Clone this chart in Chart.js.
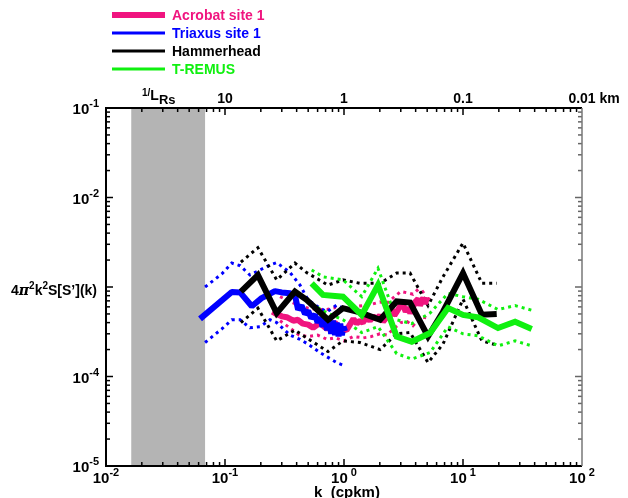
<!DOCTYPE html>
<html>
<head>
<meta charset="utf-8">
<script src="https://cdn.jsdelivr.net/npm/chart.js@4.4.1/dist/chart.umd.min.js"></script>
<style>
html,body{margin:0;padding:0;background:#fff;}
#wrap{width:628px;height:498px;position:relative;}
</style>
</head>
<body>
<div id="wrap"><canvas id="spec"></canvas></div>
<script>
// axis ranges and tick labels
const kRange = [0.01, 100];
const sRange = [1e-5, 1e-1];
const xTicks = [0.01, 0.1, 1, 10, 100];
const xTickExp = ["-2", "-1", " 0", " 1", " 2"];
const yTicks = [1e-1, 1e-2, 1e-4, 1e-5];
const yTickExp = ["-1", "-2", "-4", "-5"];
const topTicks = [0.1, 1, 10, 100];
const topTickLabels = ["10", "1", "0.1", "0.01"];
const rsBand = [0.0163, 0.068];   // 1/L_Rs shaded k range

// Acrobat site 1
const acrobatK = [0.25,0.27,0.30,0.33,0.375,0.41,0.45,0.50,0.55,0.60,0.63,0.68,0.72,0.78,0.84,0.90,0.97,1.05,1.12,1.20,1.28,1.36,1.44,1.55,1.65,1.76,1.88,2.0,2.13,2.25,2.40,2.52,2.65,2.80,2.96,3.13,3.30,3.45,3.60,3.80,4.0,4.2,4.35,4.49,4.65,4.8,4.95,5.1];
const acrobatS = [5.3e-4,5.0e-4,4.7e-4,4.6e-4,4.2e-4,4.3e-4,3.9e-4,3.8e-4,3.5e-4,3.8e-4,4.0e-4,3.6e-4,3.4e-4,3.7e-4,4.0e-4,3.6e-4,3.4e-4,3.3e-4,3.8e-4,4.4e-4,3.9e-4,4.2e-4,4.0e-4,4.6e-4,4.2e-4,4.7e-4,4.4e-4,4.8e-4,4.1e-4,4.5e-4,5.2e-4,5.6e-4,4.8e-4,5.4e-4,6.1e-4,6.4e-4,5.3e-4,5.9e-4,5.1e-4,6.0e-4,6.9e-4,7.4e-4,6.2e-4,6.8e-4,7.6e-4,6.5e-4,7.4e-4,7.0e-4];
const acrobatBK = [0.29,0.35,0.42,0.5,0.6,0.72,0.85,1.0,1.2,1.45,1.7,2.0,2.3,2.6,3.0,3.4,3.8,4.2,4.6,5.0];
const acrobatHi = [7.8e-4,6.9e-4,6.2e-4,5.8e-4,5.6e-4,5.6e-4,5.9e-4,5.3e-4,6.0e-4,6.2e-4,6.4e-4,6.8e-4,6.6e-4,7.6e-4,8.9e-4,8.6e-4,8.3e-4,9.4e-4,8.8e-4,9.6e-4];
const acrobatLo = [4.2e-4,3.5e-4,2.9e-4,2.8e-4,2.9e-4,2.6e-4,2.7e-4,2.5e-4,2.8e-4,2.7e-4,2.8e-4,3.0e-4,2.9e-4,3.4e-4,4.0e-4,4.1e-4,3.7e-4,4.3e-4,4.6e-4,4.5e-4];

// Triaxus site 1
const triaxusK = [0.0617,0.114,0.134,0.168,0.203,0.263,0.30,0.352,0.387,0.411,0.44,0.47,0.50,0.53,0.57,0.60,0.63,0.66,0.69,0.72,0.75,0.78,0.81,0.84,0.87,0.90,0.93,0.96,0.99,1.02];
const triaxusS = [4.4e-4,8.8e-4,8.7e-4,6.1e-4,7.5e-4,9.0e-4,8.7e-4,8.5e-4,8.1e-4,5.6e-4,6.2e-4,5.0e-4,5.4e-4,4.5e-4,4.9e-4,4.0e-4,4.6e-4,3.6e-4,4.4e-4,3.3e-4,4.5e-4,3.0e-4,4.2e-4,2.9e-4,4.0e-4,2.8e-4,3.9e-4,2.9e-4,3.6e-4,3.2e-4];
const triaxusBK = [0.068,0.094,0.114,0.134,0.162,0.197,0.239,0.272,0.352,0.427,0.498,0.628,0.72,0.87,0.98];
const triaxusHi = [1.0e-3,1.4e-3,1.85e-3,1.73e-3,1.36e-3,1.55e-3,1.76e-3,1.87e-3,1.45e-3,1.05e-3,7.2e-4,5.8e-4,5.3e-4,6.3e-4,5.8e-4];
const triaxusLo = [2.4e-4,3.4e-4,4.3e-4,4.3e-4,3.5e-4,3.6e-4,4.3e-4,4.0e-4,2.9e-4,2.6e-4,2.3e-4,1.85e-4,1.66e-4,1.43e-4,1.34e-4];

// Hammerhead
const hammerK = [0.136,0.189,0.272,0.387,0.485,0.734,0.98,1.36,2.01,2.77,3.59,5.08,6.79,10,14.4,19.2];
const hammerS = [8.9e-4,1.36e-3,5.1e-4,8.9e-4,7.2e-4,4.3e-4,5.8e-4,5.2e-4,4.3e-4,6.9e-4,6.7e-4,2.8e-4,5.3e-4,1.43e-3,4.9e-4,5.0e-4];
const hammerHi = [1.9e-3,2.75e-3,1.2e-3,1.85e-3,1.45e-3,1.05e-3,1.2e-3,1.1e-3,1.1e-3,1.43e-3,1.43e-3,6.2e-4,1.3e-3,3.1e-3,1.1e-3,1.1e-3];
const hammerLo = [4.0e-4,5.8e-4,2.5e-4,3.3e-4,2.7e-4,1.9e-4,2.5e-4,2.4e-4,2.0e-4,3.0e-4,3.1e-4,1.43e-4,2.3e-4,7.3e-4,2.5e-4,2.25e-4];

// T-REMUS
const remusK = [0.535,0.666,0.98,1.41,1.93,2.77,3.71,5.28,7.48,10,13.4,19.7,27.4,37.8];
const remusS = [1.1e-3,8.15e-4,7.8e-4,4.87e-4,1.05e-3,2.79e-4,2.45e-4,3.06e-4,5.82e-4,4.87e-4,4.58e-4,3.48e-4,4.09e-4,3.40e-4];
const remusHi = [1.55e-3,1.3e-3,1.2e-3,7.8e-4,1.62e-3,4.3e-4,3.9e-4,5.1e-4,8.5e-4,7.8e-4,7.3e-4,5.6e-4,6.2e-4,5.5e-4];
const remusLo = [6.5e-4,5.4e-4,4.3e-4,3.1e-4,3.6e-4,1.8e-4,1.57e-4,1.85e-4,3.6e-4,3.0e-4,2.85e-4,2.2e-4,2.5e-4,2.2e-4];

const PINK = "#f0147f", BLUE = "#0000ff", BLACK = "#000000", GREEN = "#10f010";
const FONT = '"Liberation Sans", Arial, sans-serif';

const pts = (ks, ss) => ks.map((k, i) => ({x: k, y: ss[i]}));

function mainLine(label, ks, ss, color, order, join){
    return {label, data: pts(ks, ss), borderColor: color, borderWidth: 6,
        pointRadius: 0, tension: 0, order, borderJoinStyle: join || "miter"};
}
function dotLine(ks, ss, color){
    return {label: "", data: pts(ks, ss), borderColor: color, borderWidth: 3,
        borderDash: [3, 4], borderCapStyle: "butt", pointRadius: 0, tension: 0, order: 10};
}

const legendItems = [
    {text: "Acrobat site 1", color: PINK, width: 6},
    {text: "Triaxus site 1", color: BLUE, width: 3},
    {text: "Hammerhead", color: BLACK, width: 3},
    {text: "T-REMUS", color: GREEN, width: 3}
];

// text with raised/lowered parts
function drawParts(ctx, parts, x, y, align){
    let w = 0;
    parts.forEach(p => {
        ctx.font = `${p.italic ? "italic " : ""}bold ${p.size}px ${p.family || FONT}`;
        p.w = ctx.measureText(p.t).width;
        w += p.w;
    });
    let cx = align === "right" ? x - w : align === "center" ? x - w / 2 : x;
    ctx.textAlign = "left";
    ctx.textBaseline = "alphabetic";
    parts.forEach(p => {
        ctx.font = `${p.italic ? "italic " : ""}bold ${p.size}px ${p.family || FONT}`;
        ctx.fillText(p.t, cx, y + (p.dy || 0));
        cx += p.w;
    });
}

const framePlugin = {
    id: "frame",
    beforeDatasetsDraw(chart){
        const {ctx, chartArea: a, scales: {x}} = chart;
        const x0 = x.getPixelForValue(rsBand[0]);
        const x1 = x.getPixelForValue(rsBand[1]);
        ctx.save();
        ctx.fillStyle = "#b4b4b4";
        ctx.fillRect(x0, a.top, x1 - x0, a.bottom - a.top);
        ctx.restore();
    },
    afterDatasetsDraw(chart){
        const {ctx, chartArea: a, scales: {x, y}} = chart;
        ctx.save();
        ctx.strokeStyle = "#000";
        ctx.lineWidth = 1.5;

        // ticks, all pointing inward
        const tick = (px, len, side) => {
            ctx.beginPath();
            if(side === "b"){ ctx.moveTo(px, a.bottom); ctx.lineTo(px, a.bottom - len); }
            if(side === "t"){ ctx.moveTo(px, a.top); ctx.lineTo(px, a.top + len); }
            if(side === "l"){ ctx.moveTo(a.left, px); ctx.lineTo(a.left + len, px); }
            if(side === "r"){ ctx.moveTo(a.right, px); ctx.lineTo(a.right - len, px); }
            ctx.stroke();
        };
        for(let d = -2; d <= 1; d++){
            for(let m = 1; m <= 9; m++){
                const px = x.getPixelForValue(m * Math.pow(10, d));
                const len = m === 1 ? 7 : 4;
                tick(px, len, "b");
                tick(px, len, "t");
            }
        }
        for(let d = -5; d <= -2; d++){
            for(let m = 1; m <= 9; m++){
                const py = y.getPixelForValue(m * Math.pow(10, d));
                const len = m === 1 ? 7 : 4;
                tick(py, len, "l");
                ctx.strokeStyle = "#666";
                tick(py, len, "r");
                ctx.strokeStyle = "#000";
            }
        }

        // frame
        ctx.lineWidth = 2;
        ctx.beginPath();
        ctx.moveTo(a.right, a.top);
        ctx.lineTo(a.left, a.top);
        ctx.lineTo(a.left, a.bottom);
        ctx.lineTo(a.right, a.bottom);
        ctx.stroke();
        ctx.strokeStyle = "#777";
        ctx.lineWidth = 1.5;
        ctx.beginPath();
        ctx.moveTo(a.right, a.top);
        ctx.lineTo(a.right, a.bottom);
        ctx.stroke();
        ctx.restore();
    },
    afterDraw(chart){
        const {ctx, chartArea: a, scales: {x, y}} = chart;
        ctx.save();
        ctx.fillStyle = "#000";

        // bottom tick labels
        xTicks.forEach((v, i) => {
            drawParts(ctx, [{t: "10", size: 15}, {t: xTickExp[i], size: 11, dy: -7}],
                x.getPixelForValue(v), a.bottom + 17, "center");
        });
        // left tick labels
        yTicks.forEach((v, i) => {
            drawParts(ctx, [{t: "10", size: 15}, {t: yTickExp[i], size: 11, dy: -7}],
                a.left - 7, y.getPixelForValue(v) + 6, "right");
        });
        // top wavelength labels
        topTicks.forEach((v, i) => {
            drawParts(ctx, [{t: topTickLabels[i], size: 14}], x.getPixelForValue(v), a.top - 5, "center");
        });
        ctx.font = `bold 14px ${FONT}`;
        ctx.textAlign = "left";
        ctx.fillText(" km", x.getPixelForValue(topTicks[3]) + ctx.measureText(topTickLabels[3]).width / 2, a.top - 5);
        drawParts(ctx, [{t: "1/", size: 10, dy: -7}, {t: "L", size: 14, dy: -3}, {t: "Rs", size: 13, dy: 1}],
            142, a.top - 5, "left");

        // axis titles
        drawParts(ctx, [{t: "k  (cpkm)", size: 15}], 347, 497, "center");
        drawParts(ctx, [
            {t: "4", size: 14}, {t: "π", size: 14, italic: true, family: '"DejaVu Serif", serif'},
            {t: "2", size: 10, dy: -6}, {t: "k", size: 14}, {t: "2", size: 10, dy: -6},
            {t: "S[S’](k)", size: 14}
        ], 97, 295, "right");

        // legend
        legendItems.forEach((it, i) => {
            const ly = 15 + i * 18;
            ctx.strokeStyle = it.color;
            ctx.lineWidth = it.width;
            ctx.beginPath();
            ctx.moveTo(112, ly);
            ctx.lineTo(165, ly);
            ctx.stroke();
            ctx.fillStyle = it.color;
            drawParts(ctx, [{t: it.text, size: 14}], 172, ly + 5, "left");
        });
        ctx.restore();
    }
};

new Chart(document.getElementById("spec").getContext("2d"), {
    type: "line",
    data: {
        datasets: [
            mainLine("T-REMUS", remusK, remusS, GREEN, 1),
            mainLine("Hammerhead", hammerK, hammerS, BLACK, 2),
            mainLine("Triaxus site 1", triaxusK, triaxusS, BLUE, 3, "bevel"),
            mainLine("Acrobat site 1", acrobatK, acrobatS, PINK, 4, "bevel"),
            dotLine(remusK, remusHi, GREEN),
            dotLine(remusK, remusLo, GREEN),
            dotLine(hammerK, hammerHi, BLACK),
            dotLine(hammerK, hammerLo, BLACK),
            dotLine(triaxusBK, triaxusHi, BLUE),
            dotLine(triaxusBK, triaxusLo, BLUE),
            dotLine(acrobatBK, acrobatHi, PINK),
            dotLine(acrobatBK, acrobatLo, PINK)
        ]
    },
    options: {
        responsive: true,
        maintainAspectRatio: false,
        animation: false,
        layout: {padding: {left: 106, right: 46, top: 108, bottom: 32}},
        plugins: {legend: {display: false}, tooltip: {enabled: false}},
        scales: {
            x: {type: "logarithmic", min: kRange[0], max: kRange[1], display: false},
            y: {type: "logarithmic", min: sRange[0], max: sRange[1], display: false}
        }
    },
    plugins: [framePlugin]
});
</script>
</body>
</html>
